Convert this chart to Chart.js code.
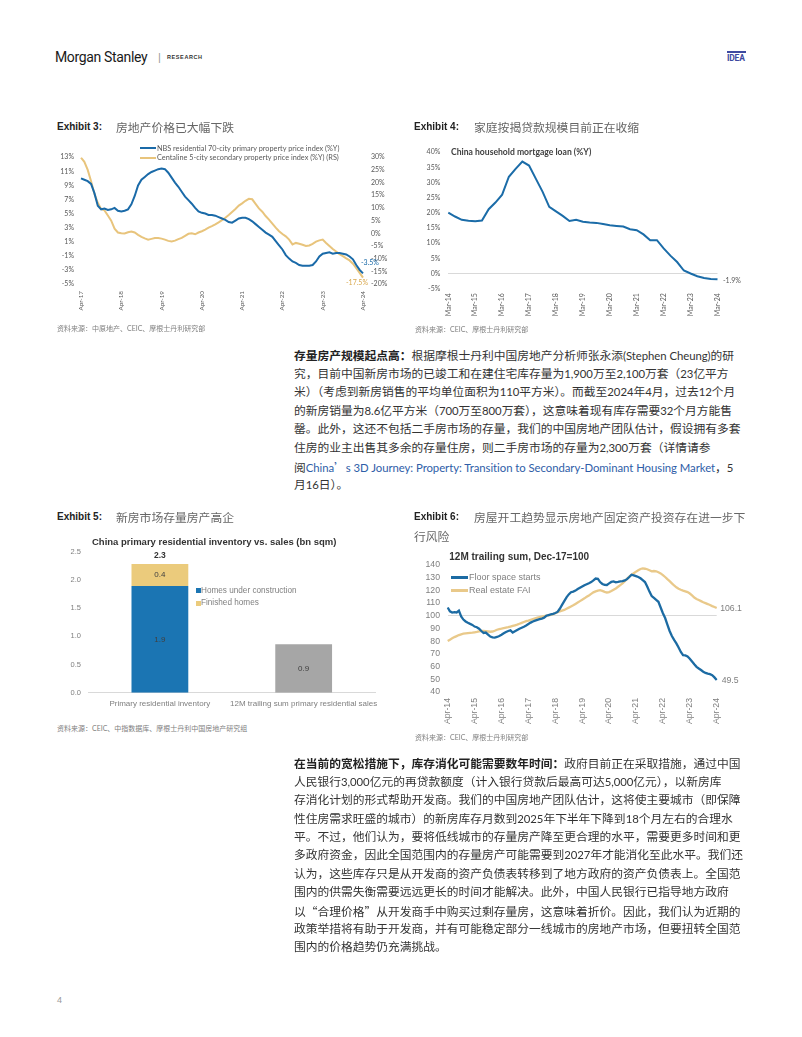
<!DOCTYPE html>
<html><head><meta charset="utf-8">
<script src="https://cdn.jsdelivr.net/npm/chart.js@4.4.1/dist/chart.umd.min.js"></script>
<style>
html,body{margin:0;padding:0;background:#fff;}
body{width:802px;height:1037px;position:relative;overflow:hidden;font-family:"Liberation Sans",Arial,sans-serif;}
.t{position:absolute;white-space:nowrap;z-index:2;}
canvas{position:absolute;z-index:1;}
.ex{font-family:"Liberation Sans",Arial,sans-serif;font-weight:700;font-size:10px;color:#222;line-height:14px;}
.ct{font-family:"Noto Sans CJK SC",sans-serif;font-size:11.8px;color:#666;line-height:14px;}
.src{font-family:Lato,"Noto Sans CJK SC",sans-serif;font-size:7px;color:#808080;line-height:10px;}
.pl{left:294px;font-family:Lato,"Noto Sans CJK SC",sans-serif;font-size:11.75px;color:#333;line-height:18px;}
.pl b{font-family:"Noto Sans CJK SC",sans-serif;font-weight:700;color:#222;}
.la{font-size:11.35px;letter-spacing:-0.05px;}
.cj{font-family:"Noto Sans CJK SC",sans-serif;}
.lnk{color:#2f5ea8;}
.sw{position:absolute;z-index:2;}
</style></head><body>

<!-- header -->
<div class="t" style="left:55px;top:48px;font-family:Roboto,sans-serif;font-size:14px;letter-spacing:-0.35px;color:#1a1a1a;line-height:18px;">Morgan Stanley</div>
<div class="t" style="left:158px;top:50px;font-size:11px;color:#999;line-height:14px;">|</div>
<div class="t" style="left:167px;top:53px;font-size:5.5px;font-weight:700;letter-spacing:0.6px;color:#333;line-height:8px;">RESEARCH</div>
<div class="sw" style="left:727px;top:51px;width:19px;height:2px;background:#3d4aa0;"></div>
<div class="t" style="left:727px;top:53px;font-family:Roboto,sans-serif;font-size:8.5px;font-weight:700;color:#3d4aa0;line-height:10px;letter-spacing:-0.2px;">IDEA</div>

<!-- Exhibit 3 -->
<div class="t ex" style="left:57px;top:120px;">Exhibit 3:</div>
<div class="t ct" style="left:116px;top:120px;">房地产价格已大幅下跌</div>
<div class="sw" style="left:140px;top:147px;width:16px;height:2px;background:#1a6aa8;"></div>
<div class="t" style="left:157px;top:143.5px;font-family:Lato,sans-serif;font-size:7.3px;color:#595959;line-height:10px;">NBS residential 70-city primary property price index (%Y)</div>
<div class="sw" style="left:140px;top:156.5px;width:16px;height:2px;background:#e8c47c;"></div>
<div class="t" style="left:157px;top:153px;font-family:Lato,sans-serif;font-size:7.3px;color:#595959;line-height:10px;">Centaline 5-city secondary property price index (%Y) (RS)</div>
<canvas id="c3" width="345" height="190" style="left:55px;top:145px;"></canvas>
<div class="t src" style="left:57px;top:323px;">资料来源：中原地产、CEIC、摩根士丹利研究部</div>

<!-- Exhibit 4 -->
<div class="t ex" style="left:414px;top:120px;">Exhibit 4:</div>
<div class="t ct" style="left:474px;top:120px;">家庭按揭贷款规模目前正在收缩</div>
<div class="t" style="left:451px;top:147px;font-family:Lato,sans-serif;font-weight:700;font-size:8.6px;color:#404040;line-height:10px;">China household mortgage loan (%Y)</div>
<canvas id="c4" width="350" height="200" style="left:410px;top:140px;"></canvas>
<div class="t src" style="left:415px;top:324px;">资料来源：CEIC、摩根士丹利研究部</div>

<!-- paragraph 1 -->
<div class="t pl" style="top:346px;"><b>存量房产规模起点高：</b>根据摩根士丹利中国房地产分析师张永添(Stephen Cheung)的研</div>
<div class="t pl" style="top:364.6px;">究，目前中国新房市场的已竣工和在建住宅库存量为1,900万至2,100万套（23亿平方</div>
<div class="t pl" style="top:383.2px;">米）（考虑到新房销售的平均单位面积为110平方米）。而截至2024年4月，过去12个月</div>
<div class="t pl" style="top:401.8px;">的新房销量为8.6亿平方米（700万至800万套），这意味着现有库存需要32个月方能售</div>
<div class="t pl" style="top:420.4px;">罄。此外，这还不包括二手房市场的存量，我们的中国房地产团队估计，假设拥有多套</div>
<div class="t pl" style="top:439px;">住房的业主出售其多余的存量住房，则二手房市场的存量为2,300万套（详情请参</div>
<div class="t pl" style="top:457.6px;">阅<span class="lnk">China<span class="cj">’</span>s 3D Journey: Property: Transition to Secondary-Dominant Housing Market</span>，5</div>
<div class="t pl" style="top:476.2px;">月16日）。</div>

<!-- Exhibit 5 -->
<div class="t ex" style="left:57px;top:510px;">Exhibit 5:</div>
<div class="t ct" style="left:116px;top:510px;">新房市场存量房产高企</div>
<div class="t" style="left:92px;top:535.7px;font-weight:700;font-size:9.5px;color:#333;line-height:12px;">China primary residential inventory vs. sales (bn sqm)</div>
<div class="sw" style="left:196px;top:588.2px;width:5px;height:5px;background:#1b75b3;"></div>
<div class="t" style="left:201px;top:585.7px;font-size:8.2px;color:#7f7f7f;line-height:10px;">Homes under construction</div>
<div class="sw" style="left:196px;top:600.8px;width:5px;height:5px;background:#ebcb7c;"></div>
<div class="t" style="left:201px;top:598.3px;font-size:8.2px;color:#7f7f7f;line-height:10px;">Finished homes</div>
<canvas id="c5" width="330" height="177" style="left:55px;top:540px;"></canvas>
<div class="t src" style="left:57px;top:723px;">资料来源：CEIC、中指数据库、摩根士丹利中国房地产研究组</div>

<!-- Exhibit 6 -->
<div class="t ex" style="left:414px;top:510px;">Exhibit 6:</div>
<div class="t ct" style="left:474px;top:510px;">房屋开工趋势显示房地产固定资产投资存在进一步下</div>
<div class="t ct" style="left:414px;top:529px;">行风险</div>
<div class="t" style="left:449.3px;top:551.3px;font-weight:700;font-size:10px;color:#333;line-height:12px;">12M trailing sum, Dec-17=100</div>
<div class="sw" style="left:451px;top:576px;width:17px;height:2.5px;background:#1c6ba3;"></div>
<div class="t" style="left:469px;top:571.8px;font-size:9px;color:#7f7f7f;line-height:11px;">Floor space starts</div>
<div class="sw" style="left:451px;top:589.4px;width:17px;height:2.5px;background:#e9c98a;"></div>
<div class="t" style="left:469px;top:585.2px;font-size:9px;color:#7f7f7f;line-height:11px;">Real estate FAI</div>
<canvas id="c6" width="350" height="200" style="left:410px;top:552px;"></canvas>
<div class="t src" style="left:415px;top:731.7px;">资料来源：CEIC、摩根士丹利研究部</div>

<!-- paragraph 2 -->
<div class="t pl" style="top:754.3px;"><b>在当前的宽松措施下，库存消化可能需要数年时间：</b>政府目前正在采取措施，通过中国</div>
<div class="t pl" style="top:772.7px;">人民银行3,000亿元的再贷款额度（计入银行贷款后最高可达5,000亿元），以新房库</div>
<div class="t pl" style="top:791.1px;">存消化计划的形式帮助开发商。我们的中国房地产团队估计，这将使主要城市（即保障</div>
<div class="t pl" style="top:809.5px;">性住房需求旺盛的城市）的新房库存月数到2025年下半年下降到18个月左右的合理水</div>
<div class="t pl" style="top:827.9px;">平。不过，他们认为，要将低线城市的存量房产降至更合理的水平，需要更多时间和更</div>
<div class="t pl" style="top:846.3px;">多政府资金，因此全国范围内的存量房产可能需要到2027年才能消化至此水平。我们还</div>
<div class="t pl" style="top:864.7px;">认为，这些库存只是从开发商的资产负债表转移到了地方政府的资产负债表上。全国范</div>
<div class="t pl" style="top:883.1px;">围内的供需失衡需要远远更长的时间才能解决。此外，中国人民银行已指导地方政府</div>
<div class="t pl" style="top:901.5px;">以<span class="cj">“</span>合理价格<span class="cj">”</span>从开发商手中购买过剩存量房，这意味着折价。因此，我们认为近期的</div>
<div class="t pl" style="top:919.9px;">政策举措将有助于开发商，并有可能稳定部分一线城市的房地产市场，但要扭转全国范</div>
<div class="t pl" style="top:938.3px;">围内的价格趋势仍充满挑战。</div>

<div class="t" style="left:57px;top:994px;font-size:9px;color:#999;line-height:12px;">4</div>

<script>
// ---------- DATA ----------
// Exhibit 3 (monthly, Apr-17 .. Apr-24)
const ex3Ticks = ['Apr-17','Apr-18','Apr-19','Apr-20','Apr-21','Apr-22','Apr-23','Apr-24'];
const ex3NBS = [10.0,9.8,9.6,9.2,7.9,6.1,5.6,5.7,5.5,5.6,5.8,5.4,
5.3,5.4,5.6,6.3,7.5,9.0,9.8,10.2,10.6,10.9,11.1,11.3,
11.4,11.3,10.8,10.1,9.4,8.8,8.1,7.4,6.9,6.4,5.8,5.3,
5.1,5.0,4.8,4.8,4.7,4.5,4.3,4.1,3.8,3.7,4.0,4.3,
4.4,4.4,4.2,3.9,3.5,3.1,2.7,2.3,2.0,1.7,1.1,0.5,
-0.1,-0.9,-1.4,-1.8,-2.0,-2.3,-2.4,-2.4,-2.4,-2.3,-1.8,-1.1,
-0.7,-0.6,-0.5,-0.7,-0.6,-0.6,-0.7,-0.8,-1.1,-1.5,-2.3,-3.0,
-3.5];
const ex3Centaline = [29.8,28.2,25.0,20.5,15.5,12.0,9.6,9.0,7.0,5.0,1.8,0.3,
0.0,-0.1,0.4,0.7,0.3,-0.6,-1.4,-2.0,-2.5,-2.2,-1.9,-1.9,
-2.1,-2.5,-3.0,-3.2,-2.9,-2.3,-1.8,-1.0,-0.2,0.0,-0.4,0.3,
0.8,1.4,2.2,2.8,3.5,4.3,5.2,6.1,7.2,8.4,9.6,10.9,
11.8,12.8,13.6,13.4,11.6,9.8,8.5,6.8,5.4,3.8,2.2,0.8,
-0.3,-1.2,-2.5,-4.4,-3.8,-4.1,-4.5,-5.0,-4.8,-4.2,-3.3,-2.8,
-2.5,-3.8,-5.0,-6.2,-7.2,-8.2,-9.0,-9.9,-10.7,-12.0,-13.8,-15.6,
-17.5];
// Exhibit 4 (quarterly, Mar-14 .. Mar-24)
const ex4Ticks = ['Mar-14','Mar-15','Mar-16','Mar-17','Mar-18','Mar-19','Mar-20','Mar-21','Mar-22','Mar-23','Mar-24'];
const ex4Mortgage = [20.1,18.8,17.7,17.4,17.2,17.5,21.2,23.4,26.0,31.9,
34.5,36.9,35.6,31.3,27.0,22.0,20.5,19.0,17.3,17.7,
17.1,16.8,16.7,16.3,15.9,15.7,15.5,14.6,14.3,12.9,
11.0,11.0,8.3,5.9,3.8,1.0,0.0,-0.9,-1.5,-1.8,
-1.9];
// Exhibit 5
const ex5Categories = ['Primary residential inventory','12M trailing sum primary residential sales'];
const ex5UnderConstruction = [1.89, null];
const ex5Finished = [0.39, null];
const ex5Sales = [null, 0.86];
// Exhibit 6 (monthly, Apr-14 .. Apr-24)
const ex6Ticks = ['Apr-14','Apr-15','Apr-16','Apr-17','Apr-18','Apr-19','Apr-20','Apr-21','Apr-22','Apr-23','Apr-24'];
const ex6Starts = [106.5,103.5,102.5,102.8,102.6,104.0,99.5,97.0,95.5,94.5,93.6,92.8,
91.5,91.0,89.8,88.0,86.5,86.8,85.2,83.6,83.0,82.8,83.3,84.0,
85.0,86.2,87.2,88.0,88.5,86.8,87.8,88.8,89.8,90.6,91.4,92.4,
93.5,94.6,95.5,96.2,96.8,97.3,97.8,98.5,100.0,100.5,101.0,101.5,
102.2,103.0,105.5,108.5,111.5,114.5,116.8,118.5,119.0,119.8,121.0,122.0,
123.0,124.0,124.8,125.6,126.5,127.8,129.3,129.0,126.5,125.0,124.3,124.2,
125.5,126.6,127.0,126.3,126.6,127.0,127.2,127.8,128.8,130.5,132.3,131.8,
131.2,130.5,129.5,128.0,126.5,123.0,119.0,115.5,114.0,112.5,111.0,106.5,
102.0,98.2,93.0,88.0,84.1,81.0,78.2,75.0,71.5,69.0,68.8,68.0,
66.2,64.0,61.8,59.8,58.5,57.3,56.0,55.0,54.4,54.0,53.2,51.5,
49.5];
const ex6FAI = [80.2,81.2,82.2,83.2,84.0,84.8,85.4,85.9,86.1,86.3,86.5,86.7,
87.0,87.3,87.7,88.0,88.0,87.8,87.6,87.4,87.6,88.2,89.0,89.5,
89.8,90.2,90.6,91.0,91.5,92.0,92.5,93.0,93.7,94.4,95.1,95.8,
96.2,96.8,97.4,98.0,98.6,99.0,99.4,99.7,100.0,100.3,100.6,101.2,
102.0,102.8,103.4,104.0,104.6,105.5,106.4,107.3,108.2,109.3,110.4,111.5,
112.6,113.7,114.9,116.0,117.2,118.4,119.2,119.8,120.2,119.6,118.8,118.3,
118.6,119.5,120.5,121.5,122.8,124.1,125.4,127.2,129.0,130.8,132.2,133.5,
134.7,135.8,136.8,137.2,137.0,136.6,135.8,135.0,135.2,135.0,134.2,133.3,
132.0,130.5,128.8,127.2,125.5,123.8,122.4,121.3,120.5,119.8,119.2,118.6,
117.5,116.0,114.3,113.2,112.4,111.5,110.6,109.9,109.2,108.4,107.6,106.9,
106.1];

// ---------- helpers ----------
// narrower latin runs in body text (reference uses a condensed latin face)
document.querySelectorAll('.pl').forEach(el=>{
  const walker = document.createTreeWalker(el, NodeFilter.SHOW_TEXT);
  const nodes = []; while(walker.nextNode()) nodes.push(walker.currentNode);
  nodes.forEach(n=>{
    const txt = n.nodeValue;
    if(!/[\x21-\x7E]/.test(txt)) return;
    const frag = document.createDocumentFragment();
    txt.split(/([\x20-\x7E]+)/).forEach(part=>{
      if(!part) return;
      if(/^[\x20-\x7E]+$/.test(part)){ const s=document.createElement('span'); s.className='la'; s.textContent=part; frag.appendChild(s); }
      else frag.appendChild(document.createTextNode(part));
    });
    n.parentNode.replaceChild(frag, n);
  });
});

const MON = ['Jan','Feb','Mar','Apr','May','Jun','Jul','Aug','Sep','Oct','Nov','Dec'];
function monthSeries(startMonth, startYear, count, step){
  const out=[];
  for(let i=0;i<count;i++){
    const m = startMonth + i*step;
    const y = startYear + Math.floor(m/12);
    out.push(MON[m%12] + '-' + String(y%100).padStart(2,'0'));
  }
  return out;
}
const ex3Months = monthSeries(3, 2017, ex3NBS.length, 1);
const ex4Quarters = monthSeries(2, 2014, ex4Mortgage.length, 3);
const ex6Months = monthSeries(3, 2014, ex6Starts.length, 1);

const endLabels = {
  id:'endLabels',
  afterDatasetsDraw(chart, args, opts){
    const ctx = chart.ctx;
    (opts.items||[]).forEach(it=>{
      const meta = chart.getDatasetMeta(it.dataset);
      const pt = meta.data[meta.data.length-1];
      const ds = chart.data.datasets[it.dataset];
      const v = ds.data[ds.data.length-1];
      ctx.save();
      ctx.font = it.font; ctx.fillStyle = it.color;
      ctx.textAlign = 'left'; ctx.textBaseline = 'middle';
      ctx.fillText(v.toFixed(1) + (it.suffix||''), pt.x + it.dx, pt.y + it.dy);
      ctx.restore();
    });
  }
};

const barLabels = {
  id:'barLabels',
  afterDatasetsDraw(chart){
    const ctx = chart.ctx;
    ctx.save();
    ctx.textAlign='center'; ctx.textBaseline='middle';
    ctx.font = '8px "Liberation Sans", Arial, sans-serif';
    ctx.fillStyle = '#404040';
    const tops = {};
    chart.data.datasets.forEach((ds,di)=>{
      const meta = chart.getDatasetMeta(di);
      meta.data.forEach((el,i)=>{
        const v = ds.data[i];
        if(v==null) return;
        ctx.fillText(v.toFixed(1), el.x, (el.y+el.base)/2);
        if(!tops[i]) tops[i] = {sum:0, y:Infinity, x:el.x, n:0};
        tops[i].sum += v; tops[i].n++; tops[i].y = Math.min(tops[i].y, el.y);
      });
    });
    ctx.font = 'bold 8.5px "Liberation Sans", Arial, sans-serif';
    ctx.fillStyle = '#333';
    Object.values(tops).forEach(t=>{
      if(t.n>1) ctx.fillText(t.sum.toFixed(1), t.x, t.y - 8.4);
    });
    ctx.restore();
  }
};

const clear = 'rgba(0,0,0,0)';
function tickFilter(list){
  return function(v){ const l = this.getLabelForValue(v); return list.includes(l) ? l : null; };
}

// ---------- Exhibit 3 ----------
const lato7 = {family:'Lato', size:7};
new Chart(document.getElementById('c3'), {
  type:'line',
  data:{labels: ex3Months, datasets:[
    {label:'NBS residential 70-city primary property price index (%Y)', data: ex3NBS, borderColor:'#1a6aa8', borderWidth:2, pointRadius:0, tension:0, yAxisID:'y'},
    {label:'Centaline 5-city secondary property price index (%Y) (RS)', data: ex3Centaline, borderColor:'#e8c47c', borderWidth:2, pointRadius:0, tension:0, yAxisID:'y2'}
  ]},
  options:{
    responsive:false, animation:false, devicePixelRatio:1,
    layout:{padding:{top:8.3,left:0,right:0,bottom:0}},
    plugins:{legend:{display:false}, tooltip:{enabled:false},
      endLabels:{items:[
        {dataset:0, dx:-2, dy:-11, color:'#1a6aa8', font:'7px Lato', suffix:'%'},
        {dataset:1, dx:-17, dy:5, color:'#d9a94f', font:'7px Lato', suffix:'%'}
      ]}},
    scales:{
      x:{grid:{display:false, drawTicks:false}, border:{display:false},
         ticks:{autoSkip:false, maxRotation:90, minRotation:90, padding:7, color:'#595959', font:{family:'Lato', size:6.3}, callback: tickFilter(ex3Ticks)},
         afterFit(s){ s.height = 51; }},
      y:{position:'left', min:-5, max:13,
         ticks:{autoSkip:false, stepSize:2, padding:7, color:'#595959', font:lato7, callback:v=>v+'%'},
         grid:{drawTicks:false, color:c=> (c.tick && c.tick.value===0) ? '#d9d9d9' : clear}, border:{display:false},
         afterFit(s){ s.width = 26; }},
      y2:{position:'right', min:-20, max:30,
         ticks:{autoSkip:false, stepSize:5, padding:8, color:'#595959', font:lato7, callback:v=>v+'%'},
         grid:{display:false, drawTicks:false}, border:{display:false},
         afterFit(s){ s.width = 37; }}
    }
  },
  plugins:[endLabels]
});

// ---------- Exhibit 4 ----------
new Chart(document.getElementById('c4'), {
  type:'line',
  data:{labels: ex4Quarters, datasets:[
    {label:'China household mortgage loan (%Y)', data: ex4Mortgage, borderColor:'#1b6ca8', borderWidth:2, pointRadius:0, tension:0}
  ]},
  options:{
    responsive:false, animation:false, devicePixelRatio:1,
    layout:{padding:{top:8.3,left:0,right:42.5,bottom:0}},
    plugins:{legend:{display:false}, tooltip:{enabled:false},
      endLabels:{items:[{dataset:0, dx:5.5, dy:1.5, color:'#595959', font:'7px Lato', suffix:'%'}]}},
    scales:{
      x:{grid:{display:false, drawTicks:false}, border:{display:false},
         ticks:{autoSkip:false, maxRotation:90, minRotation:90, padding:4.5, color:'#595959', font:{family:'Lato', size:7}, callback: tickFilter(ex4Ticks)},
         afterFit(s){ s.height = 51.3; }},
      y:{min:-5, max:40,
         ticks:{autoSkip:false, stepSize:5, padding:8, color:'#595959', font:{family:'Lato', size:7}, callback:v=>v+'%'},
         grid:{drawTicks:false, color:c=> (c.tick && c.tick.value===0) ? '#d9d9d9' : clear}, border:{display:false},
         afterFit(s){ s.width = 38.3; }}
    }
  },
  plugins:[endLabels]
});

// ---------- Exhibit 5 ----------
new Chart(document.getElementById('c5'), {
  type:'bar',
  data:{labels: ex5Categories, datasets:[
    {label:'Homes under construction', data: ex5UnderConstruction, backgroundColor:'#1b75b3', stack:'s'},
    {label:'Finished homes', data: ex5Finished, backgroundColor:'#ebcb7c', stack:'s'},
    {label:'12M trailing sum primary residential sales', data: ex5Sales, backgroundColor:'#a6a6a6', stack:'s'}
  ]},
  options:{
    responsive:false, animation:false, devicePixelRatio:1,
    layout:{padding:{top:9.3,left:0,right:7,bottom:0}},
    datasets:{bar:{categoryPercentage:1, barPercentage:0.395}},
    plugins:{legend:{display:false}, tooltip:{enabled:false}},
    scales:{
      x:{stacked:true, grid:{display:false, drawTicks:false}, border:{display:true, color:'#d9d9d9', width:1},
         ticks:{autoSkip:false, maxRotation:0, minRotation:0, padding:6, color:'#7f7f7f', font:{family:'Liberation Sans', size:8}},
         afterFit(s){ s.height = 24.3; }},
      y:{stacked:true, min:0, max:2.5,
         ticks:{autoSkip:false, stepSize:0.5, padding:7, color:'#7f7f7f', font:{family:'Liberation Sans', size:7.5}, callback:v=>Number(v).toFixed(1)},
         grid:{display:false, drawTicks:false}, border:{display:false},
         afterFit(s){ s.width = 33; }}
    }
  },
  plugins:[barLabels]
});

// ---------- Exhibit 6 ----------
const lib87 = {family:'Liberation Sans', size:8.7};
new Chart(document.getElementById('c6'), {
  type:'line',
  data:{labels: ex6Months, datasets:[
    {label:'Floor space starts', data: ex6Starts, borderColor:'#1c6ba3', borderWidth:2.3, pointRadius:0, tension:0},
    {label:'Real estate FAI', data: ex6FAI, borderColor:'#e9c98a', borderWidth:2.3, pointRadius:0, tension:0}
  ]},
  options:{
    responsive:false, animation:false, devicePixelRatio:1,
    layout:{padding:{top:10.7,left:0,right:43.3,bottom:0}},
    plugins:{legend:{display:false}, tooltip:{enabled:false},
      endLabels:{items:[
        {dataset:0, dx:5, dy:1, color:'#7f7f7f', font:'8.7px "Liberation Sans"'},
        {dataset:1, dx:3.5, dy:1, color:'#7f7f7f', font:'8.7px "Liberation Sans"'}
      ]}},
    scales:{
      x:{grid:{display:false, drawTicks:false}, border:{display:false},
         ticks:{autoSkip:false, maxRotation:90, minRotation:90, padding:6, color:'#7f7f7f', font:lib87, callback: tickFilter(ex6Ticks)},
         afterFit(s){ s.height = 60; }},
      y:{min:40, max:140,
         ticks:{autoSkip:false, stepSize:10, padding:7.7, color:'#7f7f7f', font:lib87},
         grid:{drawTicks:false, color:c=> (c.tick && c.tick.value===100) ? '#d9d9d9' : clear}, border:{display:false},
         afterFit(s){ s.width = 37.7; }}
    }
  },
  plugins:[endLabels]
});
</script>
</body></html>
